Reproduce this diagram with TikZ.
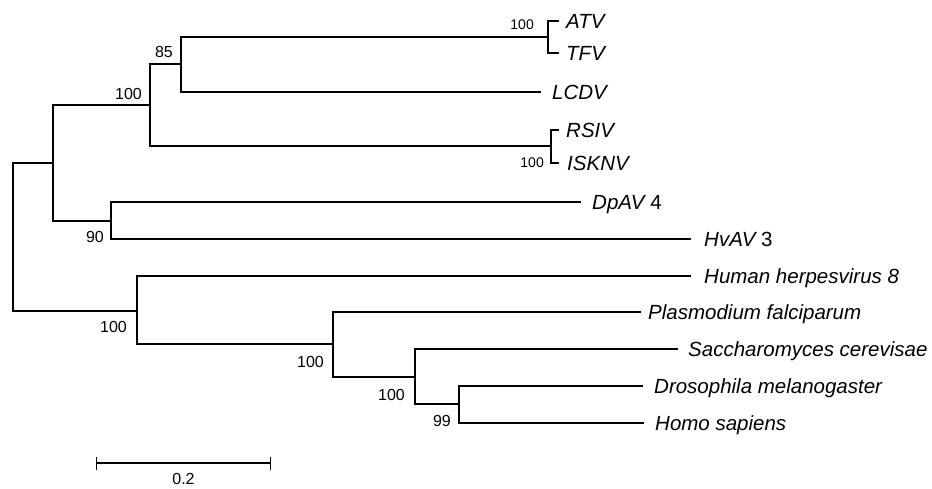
\documentclass[tikz,border=0pt]{standalone}
\usepackage{fontspec}
\setmainfont{Liberation Sans}
\usetikzlibrary{arrows.meta, positioning}

\begin{document}
\begin{tikzpicture}[
    x=1pt, y=-1pt,
    branch/.style={line width=1.3pt, line cap=rect},
    taxon/.style={anchor=west, inner xsep=12pt, inner ysep=0pt, text height=14.7pt,
                  text depth=0pt, font=\fontsize{20.5}{24}\selectfont\itshape},
    boot/.style={inner sep=0pt, font=\fontsize{16}{18}\selectfont},
    smallboot/.style={inner sep=0pt, font=\fontsize{14}{16}\selectfont}
]
    \useasboundingbox (0,0) rectangle (932,488);

    % internal nodes of the tree
    \coordinate (root) at (13,237);
    \coordinate (nA) at (53,163);
    \coordinate (nB) at (150,105);
    \coordinate (nC) at (181,64);
    \coordinate (nAT) at (548,37);
    \coordinate (nRS) at (551,146);
    \coordinate (nD) at (111,221);
    \coordinate (nE) at (137,311);
    \coordinate (nF) at (333,344);
    \coordinate (nG) at (415,377);
    \coordinate (nH) at (459,404);

    % tips
    \node[taxon, inner xsep=8pt] (atv) at (558,21) {ATV};
    \node[taxon, inner xsep=8pt] (tfv) at (558,53) {TFV};
    \node[taxon] (lcdv) at (540,92) {LCDV};
    \node[taxon, inner xsep=8pt] (rsiv) at (558,130) {RSIV};
    \node[taxon, inner xsep=9pt] (isknv) at (558,163) {ISKNV};
    \node[taxon] (dpav) at (580,202) {DpAV \upshape 4};
    \node[taxon, inner xsep=14pt] (hvav) at (690,239) {HvAV \upshape 3};
    \node[taxon, inner xsep=14pt] (hhv) at (690,276) {Human herpesvirus 8};
    \node[taxon, inner xsep=8pt] (plas) at (640,312) {Plasmodium falciparum};
    \node[taxon, inner xsep=11pt] (sacc) at (677,349) {Saccharomyces cerevisae};
    \node[taxon] (dros) at (642,386) {Drosophila melanogaster};
    \node[taxon] (homo) at (643,423) {Homo sapiens};

    % branches
    \draw[branch] (root) |- (nA);
    \draw[branch] (root) |- (nE);
    \draw[branch] (nA) |- (nB);
    \draw[branch] (nA) |- (nD);
    \draw[branch] (nB) |- (nC);
    \draw[branch] (nB) |- (nRS);
    \draw[branch] (nC) |- (nAT);
    \draw[branch] (nC) |- (lcdv.west);
    \draw[branch] (nAT) -- (nAT |- atv.west) -- (atv.west);
    \draw[branch] (nAT) -- (nAT |- tfv.west) -- (tfv.west);
    \draw[branch] (nRS) -- (nRS |- rsiv.west) -- (rsiv.west);
    \draw[branch] (nRS) -- (nRS |- isknv.west) -- (isknv.west);
    \draw[branch] (nD) |- (dpav.west);
    \draw[branch] (nD) |- (hvav.west);
    \draw[branch] (nE) |- (hhv.west);
    \draw[branch] (nE) |- (nF);
    \draw[branch] (nF) |- (plas.west);
    \draw[branch] (nF) |- (nG);
    \draw[branch] (nG) |- (sacc.west);
    \draw[branch] (nG) |- (nH);
    \draw[branch] (nH) |- (dros.west);
    \draw[branch] (nH) |- (homo.west);

    % bootstrap values
    \node[smallboot, anchor=south east] (bAT) at (534,30) {100};
    \node[boot, anchor=south east] (bC) at (173,58) {85};
    \node[boot, anchor=south east] (bB) at (142,100) {100};
    \node[smallboot, anchor=south east] (bRS) at (544,168) {100};
    \node[boot, anchor=south east] (bD) at (104,243) {90};
    \node[boot, anchor=south east] (bE) at (127,333) {100};
    \node[boot, anchor=south east] (bF) at (324,368) {100};
    \node[boot, anchor=south east] (bG) at (405,401) {100};
    \node[boot, anchor=south east] (bH) at (451,427) {99};

    % scale bar
    \coordinate (sbl) at (96,463);
    \coordinate (sbr) at (271,463);
    \coordinate (sbm) at (183.5,463);
    \draw[line width=1.3pt, {Bar[width=13pt]}-{Bar[width=13pt]}] (sbl) -- (sbr);
    \node[boot, below=10pt of sbm] (scl) {0.2};
\end{tikzpicture}
\end{document}
